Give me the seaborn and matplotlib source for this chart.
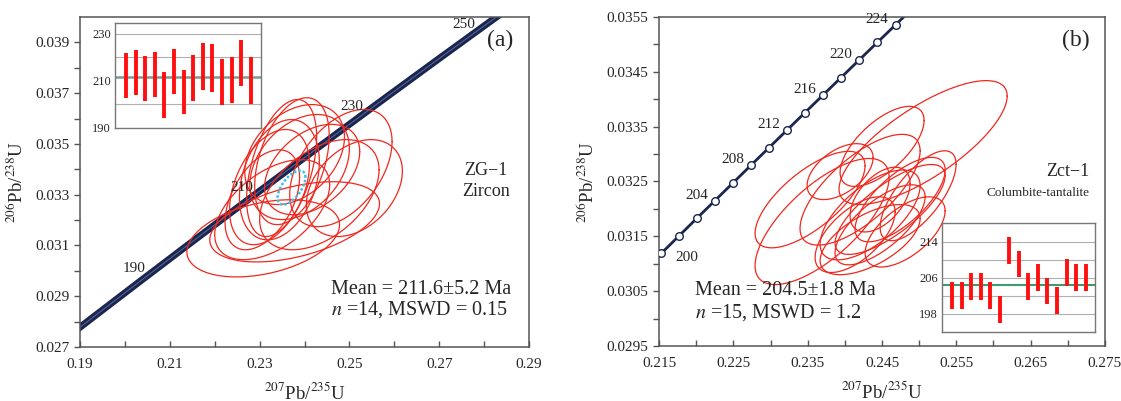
import matplotlib
matplotlib.use('Agg')
import matplotlib.pyplot as plt
import numpy as np
import pandas as pd
import seaborn as sns

# decay constants (1/yr)
L238 = 1.55125e-10
L235 = 9.8485e-10

# ---- panel (a) ZG-1 zircon: error ellipses (207/235, 206/238, sx, sy, rho)
a_cx = [0.2349, 0.2372, 0.2511, 0.2481, 0.2308, 0.2378, 0.2344,
        0.2322, 0.2389, 0.2306, 0.2417, 0.2328, 0.2378, 0.2433]
a_cy = [0.03405, 0.03432, 0.03326, 0.03405, 0.03128, 0.03193, 0.03359,
        0.03330, 0.03409, 0.03280, 0.03399, 0.03241, 0.03458, 0.03300]
a_sx = [0.0078, 0.0083, 0.0107, 0.0114, 0.0170, 0.0189, 0.0089,
        0.0089, 0.0111, 0.0083, 0.0106, 0.0128, 0.0111, 0.0133]
a_sy = [0.00270, 0.00250, 0.00191, 0.00231, 0.00152, 0.00158, 0.00237,
        0.00227, 0.00207, 0.00197, 0.00178, 0.00197, 0.00197, 0.00217]
a_rho = [0.45, 0.40, 0.35, 0.45, 0.35, 0.45, 0.30,
         0.40, 0.35, 0.45, 0.40, 0.50, 0.35, 0.45]
a_mean_ell = (0.2371, 0.03328, 0.0031, 0.00067, 0.6)
a_age_labels = [190, 210, 230, 250]

# inset (a): 206Pb/238U ages, low / high
a_low = [202.6, 203.7, 201.4, 202.9, 194.0, 204.3, 195.4,
         201.4, 205.9, 205.1, 199.6, 200.4, 207.6, 200.1]
a_high = [221.9, 223.3, 220.7, 222.3, 213.6, 223.7, 214.6,
          220.9, 226.0, 225.7, 219.4, 220.0, 227.6, 220.0]
a_mean = 211.6

# ---- panel (b) Zct-1 columbite-tantalite
b_cx = [0.25053, 0.23694, 0.23532, 0.24205, 0.24340, 0.24474, 0.24609, 0.24138,
        0.24744, 0.23936, 0.24501, 0.24986, 0.24340, 0.24811, 0.24474]
b_cy = [0.03321, 0.03177, 0.03217, 0.03235, 0.03189, 0.03171, 0.03199, 0.03153,
        0.03217, 0.03268, 0.03314, 0.03224, 0.03144, 0.03158, 0.03217]
b_sx = [0.01131, 0.00902, 0.00740, 0.00808, 0.00673, 0.00606, 0.00740, 0.00538,
        0.00606, 0.00444, 0.00565, 0.00511, 0.00673, 0.00538, 0.00404]
b_sy = [0.00113, 0.00115, 0.00088, 0.00101, 0.00082, 0.00073, 0.00082, 0.00069,
        0.00077, 0.00051, 0.00073, 0.00082, 0.00064, 0.00064, 0.00059]
b_rho = [0.75, 0.70, 0.70, 0.70, 0.65, 0.70, 0.75, 0.60,
         0.70, 0.50, 0.65, 0.70, 0.60, 0.60, 0.50]
b_marker_ages = list(range(198, 226, 2))
b_age_labels = [200, 204, 208, 212, 216, 220, 224]

b_low = [199.1, 199.1, 201.1, 201.1, 199.1, 196.1, 209.2, 206.1,
         201.1, 203.2, 200.2, 198.0, 204.1, 203.2, 203.2]
b_high = [205.0, 205.0, 207.0, 207.0, 205.0, 201.9, 215.1, 212.0,
          207.0, 209.0, 205.9, 203.9, 210.1, 209.0, 209.0]
b_mean = 204.5


def concordia(t_ma):
    t = np.asarray(t_ma, dtype=float) * 1e6
    return np.exp(L235 * t) - 1, np.exp(L238 * t) - 1


def ellipse_df(cx, cy, sx, sy, rho, n=160):
    t = np.linspace(0, 2 * np.pi, n)
    rows = []
    for i in range(len(cx)):
        x = cx[i] + sx[i] * np.cos(t)
        y = cy[i] + sy[i] * (rho[i] * np.cos(t) + np.sqrt(1 - rho[i] ** 2) * np.sin(t))
        rows.append(pd.DataFrame({'x': x, 'y': y, 'id': i}))
    return pd.concat(rows, ignore_index=True)


sns.set_theme(style='ticks')
plt.rcParams['font.family'] = ['Liberation Serif', 'DejaVu Serif']
plt.rcParams['mathtext.fontset'] = 'stix'

NAVY = '#1b2650'
RED = '#f0281e'
SPINE = '#555555'

fig = plt.figure(figsize=(11.21, 4.01), dpi=100)
ax1 = fig.add_axes([0.0714, 0.1347, 0.4005, 0.8229])
ax2 = fig.add_axes([0.5879, 0.1372, 0.3978, 0.8204])


def style_axes(ax):
    for s in ax.spines.values():
        s.set_color(SPINE)
        s.set_linewidth(1.1)
    ax.tick_params(axis='x', which='both', direction='in', length=4, width=1,
                   color=SPINE, labelsize=11, pad=8, top=False)
    ax.tick_params(axis='y', which='both', direction='out', length=4, width=1,
                   color=SPINE, labelsize=11, right=False)
    ax.set_xlabel(r'$^{207}$Pb/$^{235}$U', fontsize=13.5, labelpad=8)
    ax.set_ylabel(r'$^{206}$Pb/$^{238}$U', fontsize=13.5, labelpad=6)


# ---------------- panel (a)
tt = np.linspace(170, 265, 400)
cx_a, cy_a = concordia(tt)
sns.lineplot(x=cx_a, y=cy_a, sort=False, ax=ax1, color=NAVY, lw=5)
sns.lineplot(x=cx_a, y=cy_a, sort=False, ax=ax1, color='#5a6a98', lw=0.7)
df_a = ellipse_df(a_cx, a_cy, a_sx, a_sy, a_rho)
sns.lineplot(data=df_a, x='x', y='y', units='id', estimator=None, sort=False,
             ax=ax1, color=RED, lw=0.9)
me = ellipse_df([a_mean_ell[0]], [a_mean_ell[1]], [a_mean_ell[2]],
                [a_mean_ell[3]], [a_mean_ell[4]])
sns.lineplot(data=me, x='x', y='y', estimator=None, sort=False, ax=ax1,
             color='#3cc0ea', lw=1.8, linestyle=(0, (1, 0.8)))
for age in a_age_labels:
    lx, ly = concordia(age)
    ax1.annotate(str(age), (lx, ly), xytext=(-4, 3), textcoords='offset points',
                 ha='right', va='center', fontsize=11)
ax1.set_xlim(0.19, 0.29)
ax1.set_ylim(0.027, 0.040)
ax1.set_xticks(np.arange(0.19, 0.2901, 0.02))
ax1.set_xticks(np.arange(0.20, 0.29, 0.02), minor=True)
ax1.set_yticks(np.arange(0.027, 0.0391, 0.002))
ax1.set_yticks(np.arange(0.028, 0.040, 0.002), minor=True)
ax1.xaxis.set_major_formatter(matplotlib.ticker.FormatStrFormatter('%.2f'))
ax1.yaxis.set_major_formatter(matplotlib.ticker.FormatStrFormatter('%.3f'))
style_axes(ax1)
ax1.text(0.965, 0.93, '(a)', transform=ax1.transAxes, fontsize=17, ha='right', va='center')
ax1.text(0.905, 0.535, 'ZG\u22121', transform=ax1.transAxes, fontsize=13, ha='center', va='center')
ax1.text(0.905, 0.47, 'Zircon', transform=ax1.transAxes, fontsize=13, ha='center', va='center')
ax1.text(0.56, 0.175, 'Mean = 211.6\u00b15.2 Ma', transform=ax1.transAxes, fontsize=14.5, ha='left', va='center')
ax1.text(0.56, 0.113, r'$n$ =14, MSWD = 0.15', transform=ax1.transAxes, fontsize=14.5, ha='left', va='center')

# inset (a)
ia = fig.add_axes([0.1026, 0.6808, 0.1302, 0.2618])
pos_a = np.arange(1, len(a_low) + 1)
for y in [200, 220, 230]:
    ia.axhline(y, color='#b0b0b0', lw=0.8)
ia.axhline(a_mean, color='#7d9c8c', lw=1.8)
ia.vlines(pos_a, a_low, a_high, color='#ff1010', lw=2.8)
ia.set_xlim(-0.15, 15.05)
ia.set_ylim(189.6, 234.7)
ia.set_yticks([190, 210, 230])
ia.set_xticks([])
ia.tick_params(axis='y', length=0, labelsize=9, pad=3)
for s in ia.spines.values():
    s.set_color('#777777')
    s.set_linewidth(1)

# ---------------- panel (b)
tt = np.linspace(195, 230, 200)
cx_b, cy_b = concordia(tt)
sns.lineplot(x=cx_b, y=cy_b, sort=False, ax=ax2, color=NAVY, lw=2.0)
df_b = ellipse_df(b_cx, b_cy, b_sx, b_sy, b_rho)
sns.lineplot(data=df_b, x='x', y='y', units='id', estimator=None, sort=False,
             ax=ax2, color=RED, lw=0.9)
mx, my = concordia(b_marker_ages)
sns.scatterplot(x=mx, y=my, ax=ax2, s=30, color='white', edgecolor=NAVY,
                linewidth=1.0, zorder=5)
for age in b_age_labels:
    lx, ly = concordia(age)
    if age == 200:
        ax2.annotate(str(age), (lx, ly), xytext=(-3, -16), textcoords='offset points',
                     ha='left', va='center', fontsize=11)
    else:
        ax2.annotate(str(age), (lx, ly), xytext=(-5, 4), textcoords='offset points',
                     ha='right', va='center', fontsize=11)
ax2.set_xlim(0.215, 0.275)
ax2.set_ylim(0.0295, 0.0355)
ax2.set_xticks(np.arange(0.215, 0.2751, 0.01))
ax2.set_xticks(np.arange(0.220, 0.275, 0.01), minor=True)
ax2.set_yticks(np.arange(0.0295, 0.03551, 0.001))
ax2.set_yticks(np.arange(0.0300, 0.0355, 0.001), minor=True)
ax2.xaxis.set_major_formatter(matplotlib.ticker.FormatStrFormatter('%.3f'))
ax2.yaxis.set_major_formatter(matplotlib.ticker.FormatStrFormatter('%.4f'))
style_axes(ax2)
ax2.text(0.965, 0.93, '(b)', transform=ax2.transAxes, fontsize=17, ha='right', va='center')
ax2.text(0.965, 0.53, 'Zct\u22121', transform=ax2.transAxes, fontsize=13, ha='right', va='center')
ax2.text(0.965, 0.465, 'Columbite-tantalite', transform=ax2.transAxes, fontsize=9.5, ha='right', va='center')
ax2.text(0.08, 0.17, 'Mean = 204.5\u00b11.8 Ma', transform=ax2.transAxes, fontsize=14.5, ha='left', va='center')
ax2.text(0.08, 0.103, r'$n$ =15, MSWD = 1.2', transform=ax2.transAxes, fontsize=14.5, ha='left', va='center')

# inset (b)
ib = fig.add_axes([0.8403, 0.1721, 0.1365, 0.2718])
pos_b = np.arange(1, len(b_low) + 1)
for y in [198, 202, 206, 210, 214]:
    ib.axhline(y, color='#b0b0b0', lw=0.8)
ib.axhline(b_mean, color='#3f9a6e', lw=1.5)
ib.vlines(pos_b, b_low, b_high, color='#ff1010', lw=2.8)
ib.set_xlim(-0.05, 15.98)
ib.set_ylim(194.0, 218.2)
ib.set_yticks([198, 206, 214])
ib.set_xticks([])
ib.tick_params(axis='y', length=0, labelsize=9, pad=3)
for s in ib.spines.values():
    s.set_color('#777777')
    s.set_linewidth(1)

fig.savefig('out.png', dpi=100)
